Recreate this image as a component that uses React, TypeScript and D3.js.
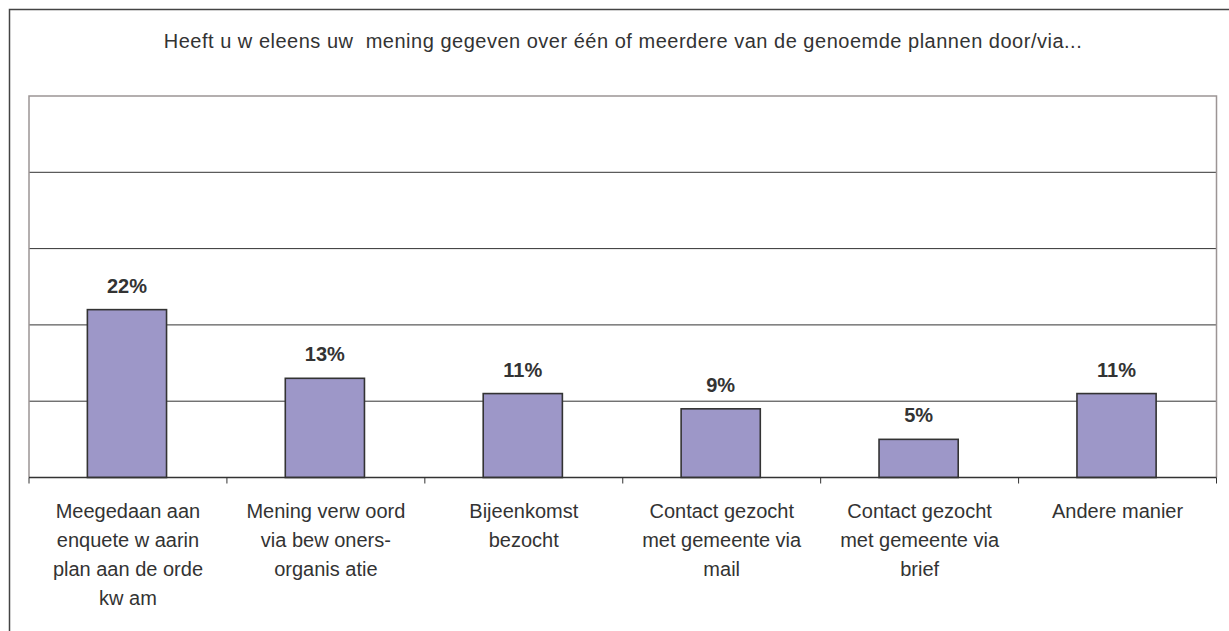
import React from 'react';
import * as d3 from 'd3';

const categories = ['c1', 'c2', 'c3', 'c4', 'c5', 'c6'];
const labelLines = [
  ['Meegedaan aan', 'enquete w aarin', 'plan aan de orde', 'kw am'],
  ['Mening verw oord', 'via bew oners-', 'organis atie'],
  ['Bijeenkomst', 'bezocht'],
  ['Contact gezocht', 'met gemeente via', 'mail'],
  ['Contact gezocht', 'met gemeente via', 'brief'],
  ['Andere manier'],
];
const values = [22, 13, 11, 9, 5, 11];
const yTicks = [0, 10, 20, 30, 40, 50];
const title = 'Heeft u w eleens uw  mening gegeven over één of meerdere van de genoemde plannen door/via...';

const W = 1229;
const H = 631;
const plot = { left: 29, right: 1216.5, top: 96, bottom: 477.5 };
const font = '"Liberation Sans", Arial, sans-serif';
const textColor = '#333333';

const App = () => {
  const x = d3.scaleBand<string>().domain(categories).range([plot.left, plot.right]).padding(0);
  const y = d3.scaleLinear().domain([0, 50]).range([plot.bottom, plot.top]);
  const barW = x.bandwidth() * 0.4;

  return (
    <svg
      width={W}
      height={H}
      style={{ position: 'absolute', left: 0, top: 0, background: '#fff' }}
      fontFamily={font}
    >
      <rect x={0} y={0} width={W} height={H} fill='#fff' />
      {/* outer frame, cut off at right and bottom */}
      <rect x={9.5} y={9.5} width={W + 20} height={H + 20} fill='none' stroke='#444' strokeWidth={1.5} />

      <text
        x={(plot.left + plot.right) / 2}
        y={48}
        textAnchor='middle'
        fontSize={20}
        fill={textColor}
        textLength={918}
        lengthAdjust='spacing'
        style={{ whiteSpace: 'pre' }}
      >
        {title}
      </text>

      {/* gridlines */}
      {yTicks.slice(1, -1).map((t) => (
        <line key={t} x1={plot.left} x2={plot.right} y1={y(t)} y2={y(t)} stroke='#333' strokeWidth={1} />
      ))}

      {/* plot border */}
      <path
        d={`M${plot.left},${plot.bottom}V${plot.top}H${plot.right}V${plot.bottom}`}
        fill='none'
        stroke='#9c9595'
        strokeWidth={1.5}
      />

      {/* bars */}
      {values.map((v, i) => {
        const cx = (x(categories[i]) as number) + x.bandwidth() / 2 - 1;
        return (
          <g key={i}>
            <rect
              x={cx - barW / 2}
              y={y(v)}
              width={barW}
              height={y(0) - y(v)}
              fill='#9d97c8'
              stroke='#333'
              strokeWidth={1.6}
            />
            <text
              x={cx}
              y={y(v) - 17}
              textAnchor='middle'
              fontSize={20}
              fontWeight='bold'
              fill={textColor}
            >
              {v}%
            </text>
          </g>
        );
      })}

      {/* x axis */}
      <line x1={plot.left} x2={plot.right} y1={plot.bottom} y2={plot.bottom} stroke='#333' strokeWidth={1.5} />
      {categories.map((c) => (
        <line
          key={c}
          x1={x(c) as number}
          x2={x(c) as number}
          y1={plot.bottom}
          y2={plot.bottom + 6}
          stroke='#333'
          strokeWidth={1}
        />
      ))}
      <line x1={plot.right} x2={plot.right} y1={plot.bottom} y2={plot.bottom + 6} stroke='#333' strokeWidth={1} />

      {/* category labels */}
      {categories.map((c, i) => (
        <text
          key={c}
          x={(x(c) as number) + x.bandwidth() / 2}
          y={518}
          textAnchor='middle'
          fontSize={20}
          fill={textColor}
        >
          {labelLines[i].map((line, j) => (
            <tspan key={j} x={(x(c) as number) + x.bandwidth() / 2} dy={j === 0 ? 0 : 29}>
              {line}
            </tspan>
          ))}
        </text>
      ))}
    </svg>
  );
};

export default App;
